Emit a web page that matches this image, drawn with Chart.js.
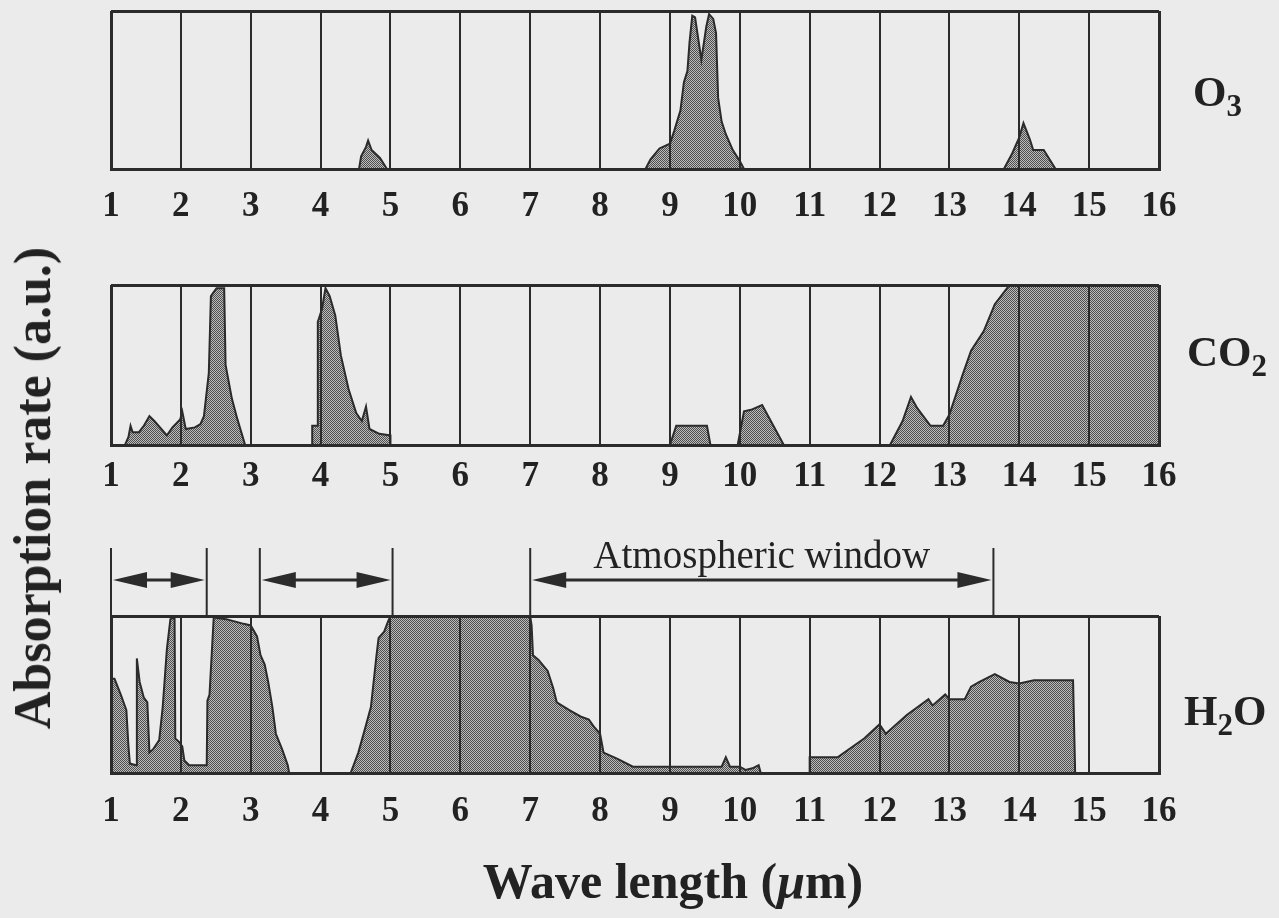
<!DOCTYPE html>
<html>
<head>
<meta charset="utf-8">
<script src="https://cdn.jsdelivr.net/npm/chart.js@4.4.0/dist/chart.umd.min.js"></script>
<style>
  body { margin: 0; background: #ebebeb; width: 1279px; height: 918px; overflow: hidden; position: relative;
         font-family: "Liberation Serif", "DejaVu Serif", serif; color: #222; }
  canvas { position: absolute; left: 0; }
  .gas { position: absolute; font-weight: bold; font-size: 43px; line-height: 1; white-space: nowrap; }
  .gas sub { font-size: 0.72em; vertical-align: -0.32em; line-height: 0; }
  #ytitle { position: absolute; left: 33px; top: 488px; transform: translate(-50%, -50%) rotate(-90deg);
            font-weight: bold; font-size: 52px; white-space: nowrap; line-height: 1; }
  #xtitle { position: absolute; left: 673px; top: 881px; transform: translate(-50%, -50%);
            font-weight: bold; font-size: 50px; white-space: nowrap; line-height: 1; }
</style>
</head>
<body>
<canvas id="o3" width="1279" height="250" style="top:0px"></canvas>
<canvas id="co2" width="1279" height="270" style="top:250px"></canvas>
<canvas id="h2o" width="1279" height="398" style="top:520px"></canvas>

<div class="gas" style="left:1193px; top:70px">O<sub>3</sub></div>
<div class="gas" style="left:1187px; top:330px">CO<sub>2</sub></div>
<div class="gas" style="left:1184px; top:689px">H<sub>2</sub>O</div>
<div id="ytitle">Absorption rate (a.u.)</div>
<div id="xtitle">Wave length (<i>μ</i>m)</div>

<script>
// etiquetas del eje x (micras)
const tickLabels = [1, 2, 3, 4, 5, 6, 7, 8, 9, 10, 11, 12, 13, 14, 15, 16];

// O3 - null separa los tramos
const waveO3 = [4.55, 4.58, 4.65, 4.68, 4.73, 4.85, 4.95, 6.8,
  8.65, 8.72, 8.85, 9.0, 9.06, 9.15, 9.2, 9.25, 9.28, 9.32, 9.36, 9.45, 9.52, 9.56, 9.62, 9.66, 9.69, 9.74, 9.8, 9.9, 10.0, 10.06, 12.0,
  13.78, 13.9, 14.0, 14.06, 14.15, 14.2, 14.35, 14.52];
const absO3 = [0, 0.08, 0.14, 0.18, 0.12, 0.07, 0, null,
  0, 0.06, 0.13, 0.16, 0.24, 0.37, 0.55, 0.62, 0.8, 0.97, 0.96, 0.69, 0.9, 0.98, 0.95, 0.86, 0.45, 0.3, 0.22, 0.12, 0.05, 0, null,
  0, 0.1, 0.2, 0.29, 0.19, 0.12, 0.12, 0];

// CO2
const waveCO2 = [1.2, 1.25, 1.28, 1.31, 1.4, 1.47, 1.55, 1.62, 1.72, 1.8, 1.88, 1.99, 2.02, 2.07, 2.2, 2.28, 2.33, 2.4, 2.43, 2.51,
  2.62, 2.64, 2.73, 2.81, 2.92, 3.4, 3.88, 3.88, 3.95, 3.96, 4.02, 4.07, 4.13, 4.21, 4.29, 4.4, 4.51, 4.59, 4.65, 4.7,
  4.84, 5.0, 5.0, 7.0, 9.0, 9.09, 9.53, 9.58, 9.8, 9.97, 10.06, 10.16, 10.32, 10.63, 11.4, 12.15, 12.33, 12.45, 12.54, 12.73,
  12.91, 13.0, 13.19, 13.31, 13.49, 13.65, 13.86, 16.0];
const absCO2 = [0, 0.05, 0.12, 0.08, 0.08, 0.12, 0.18, 0.15, 0.1, 0.06, 0.11, 0.16, 0.21, 0.1, 0.11, 0.13, 0.18, 0.45, 0.93, 0.98,
  0.98, 0.5, 0.29, 0.16, 0, null, 0, 0.12, 0.12, 0.77, 0.85, 0.98, 0.93, 0.81, 0.56, 0.35, 0.2, 0.15, 0.24, 0.1,
  0.07, 0.06, 0, null, 0, 0.12, 0.12, 0, null, 0, 0.21, 0.22, 0.25, 0, null, 0, 0.15, 0.3, 0.23, 0.12,
  0.12, 0.19, 0.44, 0.59, 0.71, 0.88, 1.0, 1.0];

// H2O
const waveH2O = [1.0, 1.0, 1.05, 1.14, 1.22, 1.25, 1.27, 1.36, 1.37, 1.41, 1.47, 1.52, 1.55, 1.6, 1.69, 1.74, 1.8, 1.85, 1.91, 1.92,
  1.97, 2.02, 2.05, 2.12, 2.37, 2.38, 2.41, 2.47, 2.65, 2.9, 3.0, 3.09, 3.14, 3.2, 3.25, 3.31, 3.36, 3.45, 3.53, 3.55,
  4.0, 4.43, 4.54, 4.64, 4.72, 4.8, 4.83, 4.91, 4.96, 5.0, 7.0, 7.02, 7.04, 7.12, 7.25, 7.33, 7.38, 7.56, 7.72, 7.84,
  7.92, 8.0, 8.05, 8.25, 8.47, 9.0, 9.74, 9.8, 9.86, 10.0, 10.08, 10.18, 10.27, 10.3, 10.6, 11.0, 11.0, 11.4, 11.78, 12.0,
  12.09, 12.39, 12.7, 12.76, 12.94, 13.0, 13.22, 13.31, 13.43, 13.65, 13.86, 14.0, 14.21, 14.77, 14.8];
const absH2O = [0, 0.6, 0.6, 0.5, 0.4, 0.17, 0.06, 0.05, 0.73, 0.58, 0.48, 0.45, 0.13, 0.15, 0.21, 0.42, 0.79, 0.98, 0.99, 0.22,
  0.2, 0.17, 0.08, 0.05, 0.05, 0.46, 0.5, 0.99, 0.98, 0.95, 0.94, 0.87, 0.75, 0.69, 0.58, 0.42, 0.25, 0.15, 0.05, 0,
  null, 0, 0.13, 0.29, 0.42, 0.75, 0.86, 0.9, 0.96, 1.0, 1.0, 0.94, 0.75, 0.72, 0.65, 0.54, 0.45, 0.4, 0.36, 0.34,
  0.29, 0.25, 0.13, 0.09, 0.04, 0.04, 0.04, 0.1, 0.04, 0.04, 0.02, 0.03, 0.05, 0, null, 0, 0.1, 0.1, 0.22, 0.31,
  0.25, 0.37, 0.47, 0.43, 0.5, 0.47, 0.47, 0.55, 0.58, 0.63, 0.58, 0.57, 0.59, 0.59, 0];

// ventanas atmosfericas (micras)
const windowFrom = [1.0, 3.13, 7.0];
const windowTo = [2.37, 5.03, 13.63];
const windowText = 'Atmospheric window';

const ink = '#2b2b2b';

function trama(ctx) {
  const c = document.createElement('canvas');
  c.width = 2; c.height = 2;
  const g = c.getContext('2d');
  g.fillStyle = '#bcbcbc'; g.fillRect(0, 0, 2, 2);
  g.fillStyle = '#4e4e4e'; g.fillRect(0, 0, 1, 1); g.fillRect(1, 1, 1, 1);
  return ctx.createPattern(c, 'repeat');
}

function flecha(ctx, x, y, dir) {
  ctx.beginPath();
  ctx.moveTo(x, y);
  ctx.lineTo(x + dir * 34, y - 8);
  ctx.lineTo(x + dir * 34, y + 8);
  ctx.closePath();
  ctx.fill();
}

const ventanaPlugin = {
  id: 'ventana',
  afterDraw(chart) {
    const ctx = chart.ctx, sx = chart.scales.x, top = chart.chartArea.top;
    ctx.save();
    ctx.strokeStyle = ink; ctx.fillStyle = ink;
    windowFrom.forEach((a, i) => {
      const x1 = sx.getPixelForValue(a), x2 = sx.getPixelForValue(windowTo[i]);
      const ya = top - 36;
      ctx.lineWidth = 2;
      [x1, x2].forEach(px => {
        ctx.beginPath(); ctx.moveTo(px, top - 68); ctx.lineTo(px, top); ctx.stroke();
      });
      ctx.lineWidth = 3;
      ctx.beginPath(); ctx.moveTo(x1 + 10, ya); ctx.lineTo(x2 - 10, ya); ctx.stroke();
      flecha(ctx, x1 + 2, ya, 1);
      flecha(ctx, x2 - 2, ya, -1);
    });
    const n = windowFrom.length - 1;
    ctx.font = '39px "Liberation Serif"';
    ctx.textAlign = 'center';
    ctx.textBaseline = 'alphabetic';
    ctx.fillStyle = '#222';
    ctx.fillText(windowText, sx.getPixelForValue((windowFrom[n] + windowTo[n]) / 2), top - 48);
    ctx.restore();
  }
};

function crearPanel(id, wave, abs, top, bottom, alto, pad, plugins) {
  const ctx = document.getElementById(id).getContext('2d');
  const data = wave.map((x, i) => ({ x: x, y: abs[i] }));
  return new Chart(ctx, {
    type: 'line',
    data: {
      datasets: [{
        data: data,
        fill: 'origin',
        backgroundColor: trama(ctx),
        borderColor: ink,
        borderWidth: 2,
        pointRadius: 0,
        tension: 0,
        spanGaps: false
      }]
    },
    options: {
      responsive: false,
      animation: false,
      layout: { padding: { left: 111, right: 120, top: top, bottom: 0 } },
      plugins: { legend: { display: false }, tooltip: { enabled: false } },
      scales: {
        x: {
          type: 'linear',
          min: 1,
          max: 16,
          afterFit: s => { s.height = alto - bottom; },
          afterBuildTicks: s => { s.ticks = tickLabels.map(v => ({ value: v })); },
          ticks: {
            autoSkip: false,
            maxRotation: 0,
            padding: pad,
            color: '#222',
            font: { family: 'Liberation Serif', size: 35, weight: 'bold' }
          },
          grid: {
            color: ink,
            lineWidth: c => (c.index === 0 || c.index === tickLabels.length - 1) ? 3 : 2,
            drawTicks: false,
            z: 1
          },
          border: { display: true, color: ink, width: 3, z: 1 }
        },
        y: {
          min: 0,
          max: 1,
          afterFit: s => { s.width = 0; },
          afterBuildTicks: s => { s.ticks = [{ value: 0 }, { value: 1 }]; },
          ticks: { display: false },
          grid: { color: ink, lineWidth: 3, drawTicks: false, z: 1 },
          border: { display: false }
        }
      }
    },
    plugins: plugins || []
  });
}

crearPanel('o3', waveO3, absO3, 11, 169, 250, 17);
crearPanel('co2', waveCO2, absCO2, 35, 195, 270, 11);
crearPanel('h2o', waveH2O, absH2O, 96, 253, 398, 18, [ventanaPlugin]);
</script>
</body>
</html>
